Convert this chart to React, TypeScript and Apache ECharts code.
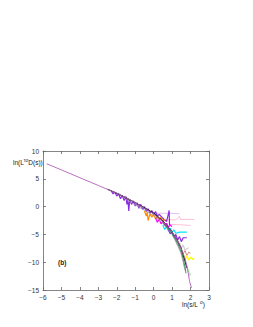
import React, { useEffect, useRef } from "react";
import * as echarts from "echarts";

const xTicks = [-6, -5, -4, -3, -2, -1, 0, 1, 2, 3];
const yTicks = [-15, -10, -5, 0, 5, 10];

const mainCurve: [number, number][] = [
  [-5.8, 7.7], [-5, 6.6], [-4, 5.2], [-3, 3.8], [-2, 2.4], [-1.5, 1.6], [-1, 0.7],
  [-0.5, -0.3], [0, -1.3], [0.5, -2.7], [1, -4.6], [1.4, -6.8], [1.7, -9.3],
  [1.85, -11.5], [1.95, -13.5], [2.05, -14.6],
];
const darkCurve: [number, number][] = [
  [-2.5, 3.1], [-2, 2.4], [-1.5, 1.6], [-1, 0.7], [-0.5, -0.2], [0, -1.2], [0.5, -2.6],
  [1, -4.6], [1.3, -6.2], [1.5, -7.6], [1.7, -9.8], [1.8, -11],
];
const greenCurve: [number, number][] = [
  [0.5, -2.8], [1, -4.9], [1.3, -6.6], [1.5, -8.2], [1.6, -9.4], [1.7, -10.8], [1.75, -12.0],
];
const grayCurve: [number, number][] = [
  [-1.5, 1.3], [-1, 0.3], [0, -1.6], [0.5, -3.0], [1, -5.0], [1.3, -7.0], [1.5, -8.6],
  [1.6, -10.0], [1.7, -11.5],
];
const purpleA: [number, number][] = [
  [-2.3, 2.8], [-2.2, 2.3], [-2.1, 2.6], [-2.0, 1.9], [-1.9, 2.3], [-1.8, 1.4], [-1.7, 2.0],
  [-1.6, 1.1], [-1.5, 1.8], [-1.45, 0.4], [-1.4, 1.4], [-1.35, -0.8], [-1.3, 1.2],
  [-1.2, 0.4], [-1.1, 1.0], [-1.0, 0.1], [-0.9, 0.7], [-0.8, -0.3], [-0.7, 0.4],
  [-0.6, -0.5], [-0.5, 0.0], [-0.4, -0.9], [-0.3, -0.4], [-0.2, -1.2], [-0.1, -0.7],
  [0, -1.4], [0.1, -0.9], [0.2, -1.7], [0.3, -1.4], [0.5, -2.1], [0.7, -2.7],
  [0.84, -0.7], [0.86, -3.3],
];
const purpleB: [number, number][] = [
  [0.8, -4.2], [0.9, -4.9], [1.0, -4.5], [1.1, -5.5], [1.2, -5.0], [1.3, -6.0],
  [1.4, -5.4], [1.5, -6.3], [1.6, -5.6], [1.8, -5.6],
];
const orange: [number, number][] = [
  [-0.5, -0.8], [-0.4, -1.7], [-0.35, -1.0], [-0.3, -2.5], [-0.2, -1.3], [-0.1, -1.9],
  [0, -1.4], [0.1, -2.2], [0.2, -1.7], [0.3, -2.4], [0.4, -1.9], [0.5, -2.7], [0.6, -2.3],
];
const magenta: [number, number][] = [
  [0.1, -2.0], [0.2, -2.8], [0.3, -2.3], [0.4, -3.1], [0.5, -2.6], [0.6, -3.4],
  [0.7, -3.0], [0.8, -3.7], [0.9, -3.3], [1.0, -3.6],
];
const cyan: [number, number][] = [
  [0.5, -3.3], [0.6, -4.1], [0.7, -3.6], [0.8, -4.4], [0.9, -3.9], [1.0, -4.6],
  [1.1, -4.2], [1.2, -4.8], [1.4, -4.6], [1.8, -4.6],
];
const lightGray: [number, number][] = [
  [1.2, -6.0], [1.3, -7.0], [1.4, -6.5], [1.5, -7.5], [1.6, -6.9], [1.7, -7.8], [1.9, -7.4],
];
const salmon: [number, number][] = [
  [1.5, -7.8], [1.6, -8.5], [1.7, -7.9], [1.8, -8.8], [1.9, -8.2], [2.0, -8.4],
];
const yellow: [number, number][] = [
  [1.6, -8.6], [1.7, -9.4], [1.8, -8.9], [1.9, -9.6], [2.0, -9.1], [2.1, -9.5], [2.2, -9.2],
];
const lightGreen: [number, number][] = [
  [1.6, -10.2], [1.7, -11.0], [1.8, -10.6], [1.85, -11.8], [1.9, -11.3], [1.95, -12.5], [2.0, -12.0],
];
const pinkFlat1: [number, number][] = [[0.5, -2.3], [1.2, -2.4], [1.4, -1.7], [1.45, -2.3], [2.2, -2.3]];
const pinkFlat2: [number, number][] = [[0.9, -3.2], [1.6, -3.3], [2.0, -3.4]];
const violetFlat: [number, number][] = [[0.1, -1.2], [0.8, -1.2], [1.4, -1.3]];

const lineSeries = (data: [number, number][], color: string, width = 0.8) => ({
  type: "line",
  data,
  showSymbol: false,
  symbol: "none",
  lineStyle: { color, width },
  silent: true,
});

export default function App() {
  const ref = useRef<HTMLDivElement>(null);
  useEffect(() => {
    const chart = echarts.init(ref.current!, undefined, { renderer: "svg" });
    const axisCommon = {
      axisLine: { show: true, onZero: false, lineStyle: { color: "#666", width: 0.8 } },
      axisTick: { show: true, inside: true, length: 3, lineStyle: { color: "#666", width: 0.8 } },
      splitLine: { show: false },
    };
    const fmt = (v: number) => (v < 0 ? "\u2212" + Math.abs(v) : String(v));
    const labelStyle = { fontSize: 6.5, color: "#333", fontFamily: "Liberation Sans" };
    chart.setOption({
      animation: false,
      grid: { left: 43, right: 44, top: 151, bottom: 37 },
      xAxis: [
        {
          type: "value", min: -6, max: 3, interval: 1, position: "bottom",
          ...axisCommon,
          axisLabel: { ...labelStyle, margin: 4, formatter: fmt },
        },
        {
          type: "value", min: -6, max: 3, interval: 1, position: "top",
          ...axisCommon, axisLabel: { show: false },
        },
      ],
      yAxis: [
        {
          type: "value", min: -15, max: 10, interval: 5, position: "left",
          ...axisCommon,
          axisLabel: { ...labelStyle, margin: 4, formatter: fmt },
        },
        {
          type: "value", min: -15, max: 10, interval: 5, position: "right",
          ...axisCommon, axisLabel: { show: false },
        },
      ],
      series: [
        lineSeries(violetFlat, "#d8b0f0"),
        lineSeries(pinkFlat1, "#ffb0c8"),
        lineSeries(pinkFlat2, "#ffb0c8"),
        lineSeries(purpleA, "#8a2be2", 1.2),
        lineSeries(orange, "#ff8c00", 1.2),
        lineSeries(magenta, "#ff00ff", 1.2),
        lineSeries(cyan, "#00e5ff", 1.2),
        lineSeries(purpleB, "#8a2be2", 1.2),
        lineSeries(lightGray, "#d0d0d0", 1.2),
        lineSeries(salmon, "#d2917a", 1),
        lineSeries(yellow, "#ffff00", 1.4),
        lineSeries(lightGreen, "#a8f0a8", 1),
        lineSeries(grayCurve, "#999999", 0.8),
        lineSeries(greenCurve, "#2e8b57", 0.9),
        lineSeries(darkCurve, "#1a1a1a", 1.1),
        lineSeries(mainCurve, "#b060b8", 0.9),
      ],
      graphic: [
        {
          type: "text", left: 13, top: 158,
          style: {
            text: "{n|ln(L}{s|τσ}{n|D(s))}",
            rich: {
              n: { fontSize: 6.5, fill: "#222", fontFamily: "Liberation Sans" },
              s: { fontSize: 4.5, fill: "#222", fontFamily: "Liberation Sans", verticalAlign: "top", padding: [0, 0, 4, 0] },
            },
          },
        },
        {
          type: "text", left: 182, top: 300,
          style: {
            text: "{n|ln(s/L}{s|σ}{n|)}",
            rich: {
              n: { fontSize: 6.5, fill: "#222", fontFamily: "Liberation Sans" },
              s: { fontSize: 4.5, fill: "#222", fontFamily: "Liberation Sans", verticalAlign: "top", padding: [0, 0, 4, 2] },
            },
          },
        },
        {
          type: "text", left: 58, top: 259,
          style: { text: "(b)", fontSize: 6.5, fontWeight: "bold", fill: "#222", fontFamily: "Liberation Sans" },
        },
      ],
    });
    return () => chart.dispose();
  }, []);
  return <div ref={ref} style={{ width: 253, height: 327, position: "absolute", left: 0, top: 0 }} />;
}
